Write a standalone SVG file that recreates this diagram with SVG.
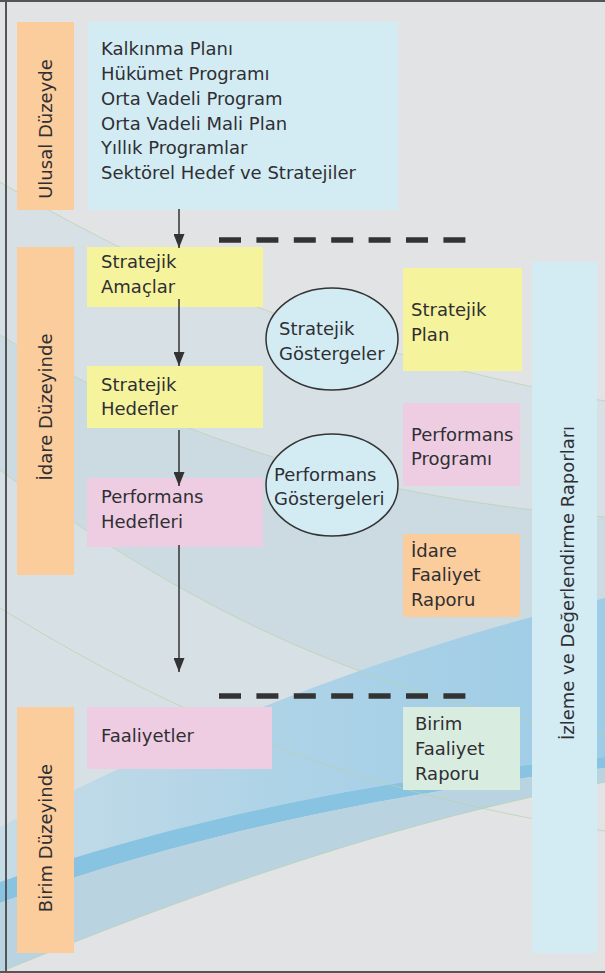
<svg xmlns="http://www.w3.org/2000/svg" width="605" height="973" viewBox="0 0 605 973">
<style>
text{font-family:"DejaVu Sans","Liberation Sans",sans-serif;font-size:18px;fill:#2f2f33}
.or{fill:#fbcc9c}
.bl{fill:#d3ecf3}
.ye{fill:#f6f39d}
.pk{fill:#eecde2}
.gr{fill:#d8ecdf}
.el{fill:#d3ecf3;stroke:#333;stroke-width:1.5}
.ar{stroke:#333;stroke-width:1.5;fill:none;marker-end:url(#arr)}
.dash{stroke:#333;stroke-width:5.5;stroke-dasharray:22 15.4;fill:none}
.thin{fill:none;stroke:#b9d1ac;stroke-width:0.7}
</style>
<defs>
<marker id="arr" viewBox="0 0 14 11" refX="14" refY="5.5" markerWidth="14" markerHeight="11" markerUnits="userSpaceOnUse" orient="auto">
<path d="M0,0 L14,5.5 L0,11 Z" fill="#333"/>
</marker>
<linearGradient id="mb" x1="0" y1="0" x2="1" y2="0">
<stop offset="0" stop-color="#c6dce7"/>
<stop offset="0.45" stop-color="#aed3e7"/>
<stop offset="1" stop-color="#9dcce6"/>
</linearGradient>
</defs>
<g id="background">
<rect x="0" y="0" width="605" height="973" fill="#e1e3e5"/>
<path d="M0,182 C140,265 320,350 605,401 L605,782 C400,820 200,890 0,972 Z" fill="#d7e0e4"/>
<path d="M0,335 C150,425 330,495 605,517 L605,735 C330,690 150,580 0,470 Z" fill="#ccdae2"/>
<path d="M0,827 C150,750 350,660 605,598 L605,757 C350,780 150,830 0,882 Z" fill="url(#mb)"/>
<path d="M0,882 C150,830 350,780 605,757 L605,768 C350,797 150,848 0,903 Z" fill="#88c4e1"/>
<path d="M0,903 C150,848 350,797 605,768 L605,782 C400,820 200,890 0,972 Z" fill="#bad3e1"/>
<path class="thin" d="M0,182 C140,265 320,350 605,401"/>
<path class="thin" d="M0,335 C150,425 330,495 605,517"/>
<path class="thin" d="M0,470 C150,580 330,690 605,735"/>
<path class="thin" d="M0,608 C150,700 330,790 605,831"/>
<path class="thin" d="M0,972 C200,890 400,820 605,782"/>
<path d="M0,1 H605 M6,0 V973 M0,972 H605" stroke="#555" stroke-width="2" fill="none"/>
</g>
<g id="separators">
<line class="dash" x1="219" y1="240" x2="466" y2="240"/>
<line class="dash" x1="219" y1="696" x2="466" y2="696"/>
</g>
<g id="ulusal">
<rect class="or" x="17" y="22" width="57" height="188"/>
<text transform="translate(52,129) rotate(-90)" text-anchor="middle">Ulusal Düzeyde</text>
</g>
<g id="ulusal-list">
<rect class="bl" x="88" y="22" width="310" height="188"/>
<text x="101" y="55">Kalkınma Planı</text>
<text x="101" y="80">Hükümet Programı</text>
<text x="101" y="105">Orta Vadeli Program</text>
<text x="101" y="130">Orta Vadeli Mali Plan</text>
<text x="101" y="154">Yıllık Programlar</text>
<text x="101" y="179">Sektörel Hedef ve Stratejiler</text>
</g>
<g id="idare">
<rect class="or" x="17" y="247" width="57" height="328"/>
<text transform="translate(52,407) rotate(-90)" text-anchor="middle">İdare Düzeyinde</text>
</g>
<g id="stratejik-amaclar">
<rect class="ye" x="87" y="247" width="176" height="60"/>
<text x="101" y="268">Stratejik</text>
<text x="101" y="293">Amaçlar</text>
</g>
<g id="stratejik-hedefler">
<rect class="ye" x="87" y="366" width="176" height="62"/>
<text x="101" y="391">Stratejik</text>
<text x="101" y="415">Hedefler</text>
</g>
<g id="performans-hedefleri">
<rect class="pk" x="87" y="478" width="176" height="69"/>
<text x="101" y="503">Performans</text>
<text x="101" y="528">Hedefleri</text>
</g>
<g id="stratejik-gostergeler">
<ellipse class="el" cx="332" cy="339" rx="66" ry="51"/>
<text x="279" y="335">Stratejik</text>
<text x="279" y="360">Göstergeler</text>
</g>
<g id="performans-gostergeleri">
<ellipse class="el" cx="332" cy="485" rx="66" ry="51"/>
<text x="274" y="481">Performans</text>
<text x="274" y="505">Göstergeleri</text>
</g>
<g id="stratejik-plan">
<rect class="ye" x="403" y="268" width="119" height="103"/>
<text x="411" y="316">Stratejik</text>
<text x="411" y="341">Plan</text>
</g>
<g id="performans-programi">
<rect class="pk" x="403" y="403" width="117" height="83"/>
<text x="411" y="441">Performans</text>
<text x="411" y="465">Programı</text>
</g>
<g id="idare-faaliyet-raporu">
<rect class="or" x="403" y="534" width="117" height="83"/>
<text x="411" y="557">İdare</text>
<text x="411" y="581">Faaliyet</text>
<text x="411" y="606">Raporu</text>
</g>
<g id="izleme">
<rect class="bl" x="532" y="262" width="65" height="691"/>
<text transform="translate(574,583) rotate(-90)" text-anchor="middle">İzleme ve Değerlendirme Raporları</text>
</g>
<g id="birim">
<rect class="or" x="17" y="707" width="57" height="246"/>
<text transform="translate(52,838) rotate(-90)" text-anchor="middle">Birim Düzeyinde</text>
</g>
<g id="faaliyetler">
<rect class="pk" x="87" y="707" width="185" height="62"/>
<text x="101" y="742">Faaliyetler</text>
</g>
<g id="birim-faaliyet-raporu">
<rect class="gr" x="403" y="707" width="117" height="83"/>
<text x="415" y="730">Birim</text>
<text x="415" y="755">Faaliyet</text>
<text x="415" y="780">Raporu</text>
</g>
<g id="connectors">
<line class="ar" x1="179" y1="209" x2="179" y2="248"/>
<line class="ar" x1="179" y1="299" x2="179" y2="366"/>
<line class="ar" x1="179" y1="430" x2="179" y2="486"/>
<line class="ar" x1="179" y1="545" x2="179" y2="672"/>
</g>
</svg>
